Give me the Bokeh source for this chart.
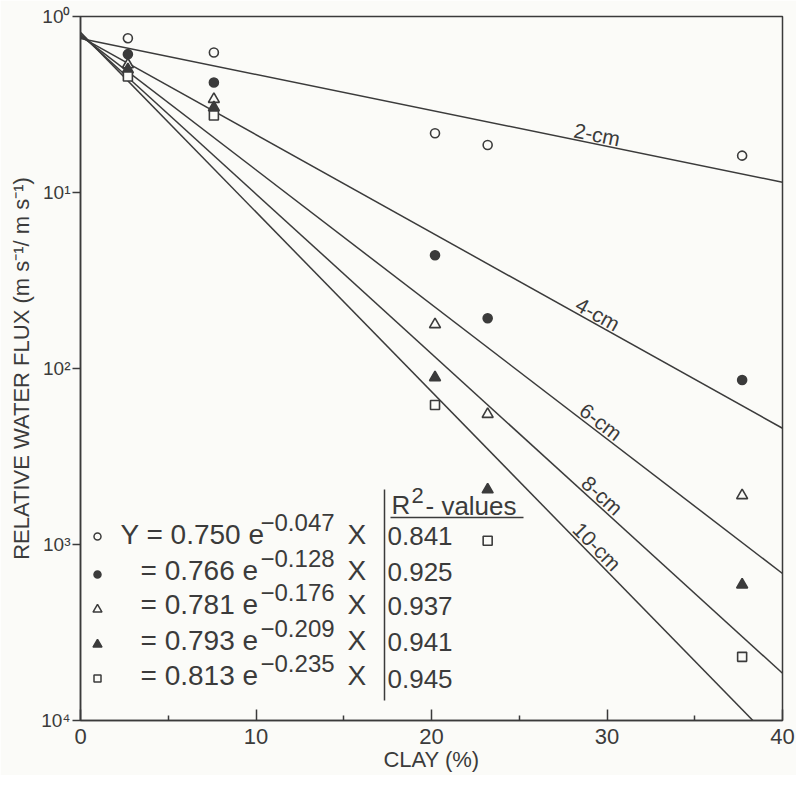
import math
from bokeh.plotting import figure
from bokeh.models import Range1d, FixedTicker, CustomJSTickFormatter, Label
from bokeh.embed import file_html
from bokeh.resources import INLINE

# ---------------- data ----------------
clay = [2.7, 7.6, 20.2, 23.2, 37.7]
flux_2cm = [0.753, 0.624, 0.217, 0.186, 0.162]
flux_4cm = [0.611, 0.422, 0.0440, 0.0193, 0.0086]
flux_6cm = [0.533, 0.339, 0.0178, 0.0055, 0.0019]
flux_8cm = [0.500, 0.304, 0.0089, 0.00205, 0.00059]
flux_10cm = [0.456, 0.274, 0.0062, 0.00105, 0.00023]

depth_labels = ["2-cm", "4-cm", "6-cm", "8-cm", "10-cm"]
coef_a = [0.750, 0.766, 0.781, 0.793, 0.813]
coef_b = [0.047, 0.128, 0.176, 0.209, 0.235]
coef_a_text = ["0.750", "0.766", "0.781", "0.793", "0.813"]
coef_b_text = ["\u22120.047", "\u22120.128", "\u22120.176", "\u22120.209", "\u22120.235"]
r2_values = ["0.841", "0.925", "0.937", "0.941", "0.945"]
label_x = [28.0, 28.0, 28.2, 28.3, 27.8]

x_ticks = [0, 10, 20, 30, 40]
x_minor_ticks = [5, 15, 25, 35]
y_ticks = [1e-4, 1e-3, 1e-2, 1e-1, 1.0]
y_tick_labels = ["10\u2070", "10\u00b9", "10\u00b2", "10\u00b3", "10\u2074"]

series = [flux_2cm, flux_4cm, flux_6cm, flux_8cm, flux_10cm]
markers = ["circle", "circle", "triangle", "triangle", "square"]
filled = [False, True, False, True, False]
msizes = [9, 9, 11, 11, 9]

# ---------------- style ----------------
INK = "#3b3b3b"
BG = "#fbfbf8"
FONT = "Liberation Sans"

W, H = 796, 775
FL, FT, FR, FB = 80, 16, 14, 55          # borders (canvas px)
FW, FH = W - FL - FR, H - FT - FB        # frame size

# image-pixel -> data helpers for annotation placement (image frame: left 88, top 24)
def xd(px):
    return (px - 88) / FW * 40

def yd(py):
    return 10 ** (-(py - 24) / FH * 4)

p = figure(width=W, height=H, x_range=Range1d(0, 40), y_range=Range1d(1e-4, 1.0),
           y_axis_type="log", output_backend="svg", toolbar_location=None,
           min_border_left=FL, min_border_right=FR, min_border_top=FT, min_border_bottom=FB)
p.background_fill_color = BG
p.border_fill_color = BG
p.outline_line_color = INK
p.outline_line_width = 1.5
p.xgrid.visible = False
p.ygrid.visible = False

# x axis
xa = p.xaxis[0]
xa.ticker = FixedTicker(ticks=x_ticks, minor_ticks=x_minor_ticks)
xa.major_tick_in = 11
xa.major_tick_out = 0
xa.minor_tick_in = 5
xa.minor_tick_out = 0
xa.axis_line_color = INK
xa.axis_line_width = 1.5
xa.major_tick_line_color = INK
xa.major_tick_line_width = 1.5
xa.minor_tick_line_color = INK
xa.minor_tick_line_width = 1.5
xa.major_label_text_font = FONT
xa.major_label_text_font_size = "22px"
xa.major_label_text_color = INK
xa.major_label_standoff = 8
xa.axis_label = "CLAY (%)"
xa.axis_label_text_font = FONT
xa.axis_label_text_font_size = "22px"
xa.axis_label_text_font_style = "normal"
xa.axis_label_text_color = INK
xa.axis_label_standoff = 0

# y axis
ya = p.yaxis[0]
ya.ticker = FixedTicker(ticks=y_ticks, minor_ticks=[])
ya.formatter = CustomJSTickFormatter(args=dict(labels=y_tick_labels),
                                     code="const k = Math.round(-Math.log10(tick)); return labels[k];")
ya.major_tick_in = 0
ya.major_tick_out = 8
ya.minor_tick_line_color = None
ya.axis_line_color = INK
ya.axis_line_width = 1.5
ya.major_tick_line_color = INK
ya.major_tick_line_width = 1.5
ya.major_label_text_font = FONT
ya.major_label_text_font_size = "19px"
ya.major_label_text_color = INK
ya.major_label_standoff = 2
ya.axis_label = "RELATIVE WATER FLUX (m s\u207b\u00b9/ m s\u207b\u00b9)"
ya.axis_label_text_font = FONT
ya.axis_label_text_font_size = "22px"
ya.axis_label_text_font_style = "normal"
ya.axis_label_text_color = INK
ya.axis_label_standoff = 4

# fitted regression lines and their labels
px_per_x = FW / 40.0
px_per_dec = FH / 4.0
for a, b, lab, lx in zip(coef_a, coef_b, depth_labels, label_x):
    xs = [0, 40]
    ys = [a * math.exp(-b * x) for x in xs]
    p.line(xs, ys, line_color=INK, line_width=1.5)
    ang = math.atan(b / math.log(10) * px_per_dec / px_per_x)
    p.add_layout(Label(x=lx, y=a * math.exp(-b * lx), text=lab, angle=-ang,
                       text_align="left", text_baseline="bottom",
                       text_font=FONT, text_font_size="21px", text_color=INK,
                       y_offset=-2))

# data points
for ys, mk, fl, ms in zip(series, markers, filled, msizes):
    p.scatter(clay, ys, marker=mk, size=ms, line_color=INK, line_width=1.6,
              fill_color=INK if fl else BG)

# ---------------- equation legend ----------------
row_text_y = [542, 578, 612, 648, 683]
row_mark_y = [544, 582, 617, 652, 686]
r2_y = [543, 579, 613, 649, 686]
leg_sizes = [7, 7, 9, 9, 7]
for i in range(5):
    p.scatter([xd(105)], [yd(row_mark_y[i])], marker=markers[i], size=leg_sizes[i],
              line_color=INK, line_width=1.5, fill_color=INK if filled[i] else BG)
    if i == 0:
        base = "Y = " + coef_a_text[i] + " e"
        bx = 128
    else:
        base = "= " + coef_a_text[i] + " e"
        bx = 148
    p.add_layout(Label(x=xd(bx), y=yd(row_text_y[i]), text=base, text_align="left",
                       text_baseline="middle", text_font=FONT, text_font_size="28px",
                       text_color=INK))
    p.add_layout(Label(x=xd(268), y=yd(row_text_y[i] - 12), text=coef_b_text[i],
                       text_align="left", text_baseline="middle", text_font=FONT,
                       text_font_size="24px", text_color=INK))
    p.add_layout(Label(x=xd(355), y=yd(row_text_y[i]), text="X", text_align="left",
                       text_baseline="middle", text_font=FONT, text_font_size="28px",
                       text_color=INK))
    p.add_layout(Label(x=xd(395), y=yd(r2_y[i]), text=r2_values[i], text_align="left",
                       text_baseline="middle", text_font=FONT, text_font_size="26px",
                       text_color=INK))

# divider and header
p.segment(x0=[xd(392)], y0=[yd(497)], x1=[xd(392)], y1=[yd(708)], line_color=INK, line_width=1.5)
p.segment(x0=[xd(398)], y0=[yd(525)], x1=[xd(531)], y1=[yd(525)], line_color=INK, line_width=1.5)
p.add_layout(Label(x=xd(399), y=yd(512), text="R", text_align="left", text_baseline="middle",
                   text_font=FONT, text_font_size="26px", text_color=INK))
p.add_layout(Label(x=xd(419), y=yd(503), text="2", text_align="left", text_baseline="middle",
                   text_font=FONT, text_font_size="22px", text_color=INK))
p.add_layout(Label(x=xd(433), y=yd(513), text="- values", text_align="left", text_baseline="middle",
                   text_font=FONT, text_font_size="26px", text_color=INK))

open("out.html", "w").write(file_html(p, INLINE))
